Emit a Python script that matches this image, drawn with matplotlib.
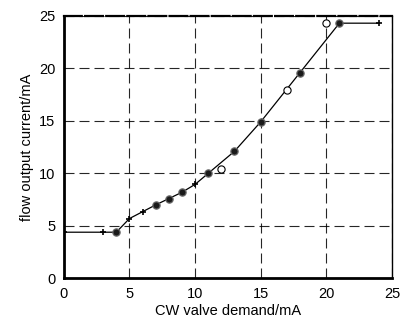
import matplotlib
matplotlib.use("Agg")
import matplotlib.pyplot as plt

plt.rcParams['font.family'] = ['Liberation Sans', 'DejaVu Sans']

# model line (with + markers)
line_x = [0, 3, 4, 5, 6, 7, 8, 9, 10, 11, 13, 15, 18, 21, 24]
line_y = [4.4, 4.4, 4.4, 5.7, 6.35, 7.0, 7.6, 8.2, 8.95, 10.0, 12.1, 14.9, 19.6, 24.3, 24.3]

# filled circle measurements
meas_x = [4, 7, 8, 9, 11, 13, 15, 18, 21]
meas_y = [4.4, 7.0, 7.6, 8.2, 10.0, 12.1, 14.9, 19.6, 24.3]

# open circle measurements
open_x = [12, 17, 20]
open_y = [10.4, 17.9, 24.3]

xticks = [0, 5, 10, 15, 20, 25]
yticks = [0, 5, 10, 15, 20, 25]

fig = plt.figure(figsize=(4.04, 3.23), dpi=100)
ax = fig.add_axes([0.158, 0.138, 0.812, 0.813])

ax.plot(line_x, line_y, color='black', lw=0.9, marker='+', ms=4.5, mew=1.2, zorder=3)
ax.plot(meas_x, meas_y, ls='none', marker='o', ms=5.2, mfc='#1a1a1a', mec='#666666', mew=0.9, zorder=4)
ax.plot(open_x, open_y, ls='none', marker='o', ms=5.2, mfc='white', mec='black', mew=0.8, zorder=4)

ax.set_xlim(0, 25)
ax.set_ylim(0, 25)
ax.set_xticks(xticks)
ax.set_yticks(yticks)
ax.tick_params(length=0, labelsize=10.5, pad=6)
ax.grid(True, color='black', ls=(0, (9, 4.5)), lw=0.8, alpha=0.85)
ax.set_axisbelow(True)

for s in ['left', 'bottom']:
    ax.spines[s].set_linewidth(2.0)
ax.spines['right'].set_linewidth(1.0)
ax.spines['top'].set_linewidth(1.6)
ax.spines['top'].set_linestyle((0, (8, 1.5)))

ax.set_xlabel('CW valve demand/mA', fontsize=10.5, labelpad=2)
ax.set_ylabel('flow output current/mA', fontsize=10.5, labelpad=4)

fig.savefig('out.png', dpi=100)
